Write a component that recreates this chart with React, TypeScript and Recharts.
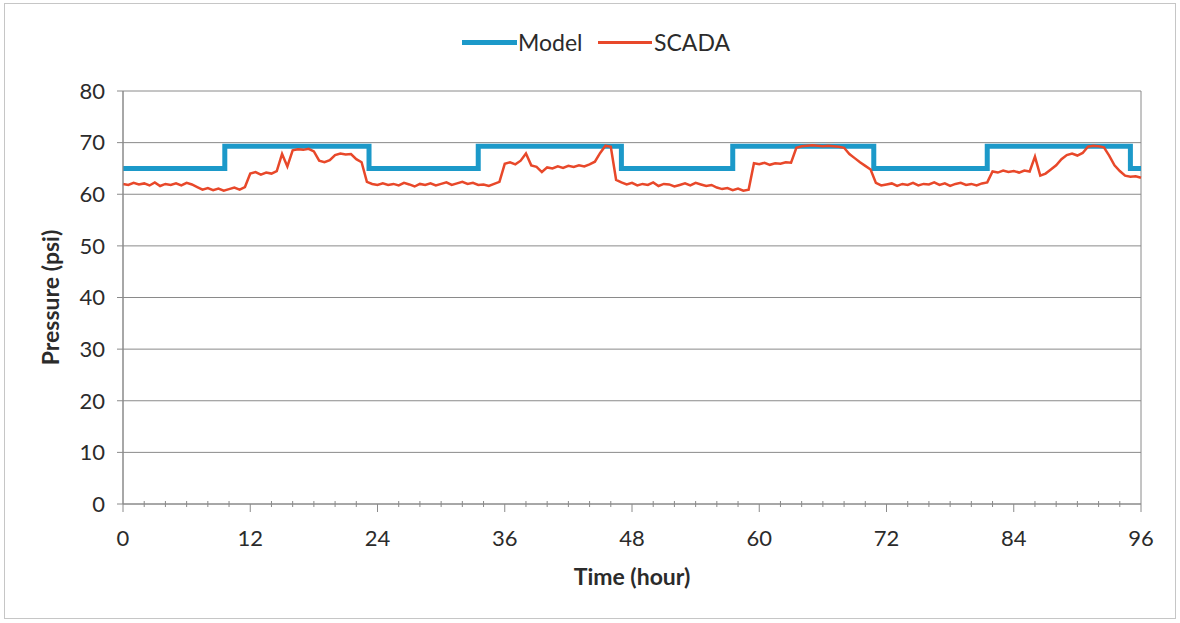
import { LineChart, Line, XAxis, YAxis, CartesianGrid } from 'recharts';

// hours at which the model pressure changes, and the value held from that hour
const modelHours = [0, 9.6, 23.2, 33.5, 47.0, 57.5, 70.8, 81.5, 95.0, 96];
const modelValues = [65, 69.3, 65, 69.3, 65, 69.3, 65, 69.3, 65, 65];

// SCADA readings, one every half hour from 0 to 96
const scadaValues = [
  62.0, 61.8, 62.2, 61.9, 62.1, 61.7, 62.3, 61.6, 62.0, 61.8, 62.1, 61.7, 62.2, 61.9, 61.4, 60.9, 61.2, 60.8, 61.1, 60.7, 61.0, 61.3, 60.9, 61.4,
  64.0, 64.3, 63.8, 64.2, 64.0, 64.5, 67.8, 65.4, 68.5, 68.7, 68.6, 68.8, 68.3, 66.5, 66.2, 66.6, 67.6, 67.9, 67.7, 67.8, 66.8, 66.2, 62.4, 62.0,
  61.8, 62.1, 61.8, 62.0, 61.7, 62.2, 61.9, 61.5, 62.0, 61.8, 62.1, 61.7, 62.0, 62.3, 61.8, 62.1, 62.4, 62.0, 62.2, 61.8, 61.9, 61.6, 62.0, 62.4,
  65.9, 66.2, 65.8, 66.5, 67.9, 65.6, 65.3, 64.3, 65.2, 65.0, 65.4, 65.1, 65.5, 65.3, 65.6, 65.4, 65.8, 66.3, 68.0, 69.4, 69.2, 62.8, 62.3, 61.9,
  62.2, 61.7, 62.0, 61.8, 62.3, 61.6, 62.0, 61.9, 61.5, 61.8, 62.1, 61.7, 62.2, 61.9, 61.6, 61.8, 61.3, 61.0, 61.2, 60.8, 61.1, 60.7, 60.9, 66.0,
  65.8, 66.1, 65.7, 66.0, 65.9, 66.2, 66.1, 69.0, 69.3, 69.4, 69.5, 69.4, 69.3, 69.4, 69.3, 69.2, 69.0, 67.8, 67.0, 66.2, 65.5, 64.8, 62.2, 61.7,
  61.9, 62.1, 61.6, 62.0, 61.8, 62.2, 61.7, 62.0, 61.9, 62.3, 61.8, 62.1, 61.6, 62.0, 62.2, 61.8, 62.0, 61.7, 62.1, 62.3, 64.4, 64.2, 64.6, 64.3,
  64.5, 64.2, 64.6, 64.4, 67.3, 63.6, 64.0, 64.8, 65.6, 66.8, 67.6, 67.9, 67.5, 68.0, 69.2, 69.4, 69.3, 69.1, 67.5, 65.6, 64.5, 63.6, 63.4, 63.5, 63.2,
];

const xTicks = [0, 2, 4, 6, 8, 10, 12, 14, 16, 18, 20, 22, 24, 26, 28, 30, 32, 34, 36, 38, 40, 42, 44, 46, 48,
  50, 52, 54, 56, 58, 60, 62, 64, 66, 68, 70, 72, 74, 76, 78, 80, 82, 84, 86, 88, 90, 92, 94, 96];
const xMajorTicks = [0, 12, 24, 36, 48, 60, 72, 84, 96];
const yTicks = [0, 10, 20, 30, 40, 50, 60, 70, 80];

const modelData = modelHours.map((h, i) => ({ h, model: modelValues[i] }));
const scadaData = scadaValues.map((v, i) => ({ h: i * 0.5, scada: v }));

const FONT = 'Lato, "Open Sans", sans-serif';
const GRID = '#8a8a8a';
const TEXT = '#2b2b2b';
const BLUE = '#1c99c9';
const RED = '#e8482a';

const XTick = (props: any) => {
  const { x, y, payload } = props;
  const major = payload.value % 12 === 0;
  return (
    <g>
      <line x1={x} x2={x} y1={major ? y : y - 3} y2={major ? y + 8 : y + 3} stroke={GRID} strokeWidth={1} />
      {major && (
        <text x={x} y={y + 33} textAnchor="middle" dominantBaseline="central" fontSize={22} fill={TEXT} fontFamily={FONT}>
          {payload.value}
        </text>
      )}
    </g>
  );
};

const YTitle = (props: any) => {
  const { viewBox } = props;
  const cx = viewBox.x + 7;
  const cy = viewBox.y + viewBox.height / 2;
  return (
    <text x={cx} y={cy} transform={`rotate(-90 ${cx} ${cy})`} textAnchor="middle" dominantBaseline="central"
      fontSize={23} fontWeight="bold" fill={TEXT} fontFamily={FONT}>
      Pressure (psi)
    </text>
  );
};

const XTitle = (props: any) => {
  const { viewBox } = props;
  const cx = viewBox.x + viewBox.width / 2;
  const cy = viewBox.y + 72;
  return (
    <text x={cx} y={cy} textAnchor="middle" dominantBaseline="central"
      fontSize={23} fontWeight="bold" fill={TEXT} fontFamily={FONT}>
      Time (hour)
    </text>
  );
};

const App = () => {
  return (
    <div style={{ position: 'absolute', left: 0, top: 0, width: 1180, height: 623, background: '#fff', fontFamily: FONT }}>
      <div style={{ position: 'absolute', left: 4, top: 3, width: 1170, height: 614, border: '1px solid #c6c6c6' }} />
      <LineChart width={1180} height={623} margin={{ top: 91, right: 39, bottom: 39, left: 43 }}>
        <XAxis xAxisId="grid" type="number" dataKey="h" domain={[0, 96]} ticks={xMajorTicks} hide />
        <CartesianGrid xAxisId="grid" stroke={GRID} strokeWidth={1} />
        <XAxis
          type="number"
          dataKey="h"
          domain={[0, 96]}
          ticks={xTicks}
          interval={0}
          tick={<XTick />}
          tickSize={0}
          tickMargin={0}
          tickLine={false}
          axisLine={{ stroke: GRID }}
          height={80}
          label={<XTitle />}
        />
        <YAxis
          type="number"
          domain={[0, 80]}
          ticks={yTicks}
          interval={0}
          width={80}
          tickSize={6}
          tickMargin={12}
          tick={{ fontSize: 22, fill: TEXT, fontFamily: FONT }}
          tickLine={{ stroke: GRID }}
          axisLine={{ stroke: GRID }}
          label={<YTitle />}
        />
        <Line data={modelData} dataKey="model" type="stepAfter" stroke={BLUE} strokeWidth={5} dot={false} isAnimationActive={false} />
        <Line data={scadaData} dataKey="scada" type="linear" stroke={RED} strokeWidth={2.5} dot={false} isAnimationActive={false} />
      </LineChart>
      <div style={{ position: 'absolute', left: 462, top: 40, width: 55, height: 5, background: BLUE }} />
      <div style={{ position: 'absolute', left: 518, top: 28, fontSize: 23, color: TEXT, lineHeight: '28px' }}>Model</div>
      <div style={{ position: 'absolute', left: 598, top: 41, width: 54, height: 3, background: RED }} />
      <div style={{ position: 'absolute', left: 654, top: 28, fontSize: 23, color: TEXT, lineHeight: '28px' }}>SCADA</div>
    </div>
  );
};

export default App;
